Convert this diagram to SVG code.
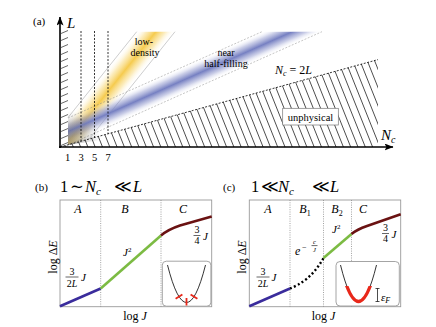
<svg xmlns="http://www.w3.org/2000/svg" width="436" height="327" viewBox="0 0 436 327">
<defs>
<style>
.t{font-family:"Liberation Serif","DejaVu Serif",serif;fill:#000}
.i{font-style:italic}
.ax{stroke:#000;stroke-width:1.6;fill:none}
.box{fill:#fff;stroke:#9a9a9a;stroke-width:0.9}
.dv{stroke:#8a8a8a;stroke-width:0.8;stroke-dasharray:1 1.3;fill:none}
.vd{stroke:#000;stroke-width:0.8;stroke-dasharray:2 1.5;fill:none}
.bandY{fill:none;stroke:#9a9a9a;stroke-width:0.5}
.bandB{fill:none;stroke:#8a8a8a;stroke-width:0.5;stroke-dasharray:2 1.5}
.frac{stroke:#000;stroke-width:0.6}
.pur{stroke:#3a2c9c;stroke-width:2.6;fill:none}
.grn{stroke:#7cbb43;stroke-width:2.6;fill:none}
.red{stroke:#6a1212;stroke-width:2.6;fill:none}
.mk{stroke:#e8281a;stroke-width:1.8;fill:none}
.par{stroke:#000;stroke-width:0.8;fill:none}
</style>
<marker id="arr" markerUnits="userSpaceOnUse" markerWidth="9" markerHeight="7" viewBox="0 0 9 7" refX="8.5" refY="3.5" orient="auto">
<path d="M0,0 L9,3.5 L0,7 L2,3.5 z" fill="#000"/>
</marker>
<linearGradient id="gB" gradientUnits="userSpaceOnUse" x1="68" y1="118" x2="78.03" y2="140.54">
<stop offset="0" stop-color="#ffffff" stop-opacity="0"/>
<stop offset="0.25" stop-color="#8d95cc" stop-opacity="0.45"/>
<stop offset="0.5" stop-color="#7680c2" stop-opacity="1"/>
<stop offset="0.75" stop-color="#8d95cc" stop-opacity="0.45"/>
<stop offset="1" stop-color="#ffffff" stop-opacity="0"/>
</linearGradient>
<linearGradient id="gY" gradientUnits="userSpaceOnUse" x1="136.7" y1="31.7" x2="160.06" y2="50.38">
<stop offset="0" stop-color="#ffffff" stop-opacity="0"/>
<stop offset="0.25" stop-color="#f8d66e" stop-opacity="0.45"/>
<stop offset="0.5" stop-color="#f5c845" stop-opacity="0.95"/>
<stop offset="0.75" stop-color="#f8d66e" stop-opacity="0.45"/>
<stop offset="1" stop-color="#ffffff" stop-opacity="0"/>
</linearGradient>
<radialGradient id="gG" gradientUnits="userSpaceOnUse" cx="68" cy="145" r="34">
<stop offset="0" stop-color="#666666" stop-opacity="0.55"/>
<stop offset="1" stop-color="#666666" stop-opacity="0"/>
</radialGradient>
<clipPath id="cpHatch"><polygon points="60,147 378,59.6 378,147"/></clipPath>
<clipPath id="cpRed"><rect x="336" y="286" width="64" height="22"/></clipPath>
</defs>

<g id="panel-a">
<text class="t" x="33" y="25" font-size="11">(a)</text>
<g id="band-low-density">
<polygon points="136.7,31.7 175,31.7 89.2,139 68,144.8 68,117.6" fill="url(#gY)"/>
<line class="bandY" x1="68" y1="117.6" x2="136.7" y2="31.7"/>
<line class="bandY" x1="89.2" y1="139" x2="175" y2="31.7"/>
</g>
<g id="band-half-filling">
<polygon points="262,31.7 322,31.7 68,145 68,118" fill="url(#gB)"/>
<line class="bandB" x1="68" y1="118" x2="262" y2="31.7"/>
<line class="bandB" x1="68" y1="145" x2="322" y2="31.7"/>
</g>
<polygon points="68,112 96,100 100,140 68,145" fill="url(#gG)"/>
<g id="unphysical-region">
<path clip-path="url(#cpHatch)" stroke="#000" stroke-width="0.7" fill="none" d="M30,57l36,90m-28.7,-90l36,90m-28.7,-90l36,90m-28.7,-90l36,90m-28.7,-90l36,90m-28.7,-90l36,90m-28.7,-90l36,90m-28.7,-90l36,90m-28.7,-90l36,90m-28.7,-90l36,90m-28.7,-90l36,90m-28.7,-90l36,90m-28.7,-90l36,90m-28.7,-90l36,90m-28.7,-90l36,90m-28.7,-90l36,90m-28.7,-90l36,90m-28.7,-90l36,90m-28.7,-90l36,90m-28.7,-90l36,90m-28.7,-90l36,90m-28.7,-90l36,90m-28.7,-90l36,90m-28.7,-90l36,90m-28.7,-90l36,90m-28.7,-90l36,90m-28.7,-90l36,90m-28.7,-90l36,90m-28.7,-90l36,90m-28.7,-90l36,90m-28.7,-90l36,90m-28.7,-90l36,90m-28.7,-90l36,90m-28.7,-90l36,90m-28.7,-90l36,90m-28.7,-90l36,90m-28.7,-90l36,90m-28.7,-90l36,90m-28.7,-90l36,90m-28.7,-90l36,90m-28.7,-90l36,90m-28.7,-90l36,90m-28.7,-90l36,90m-28.7,-90l36,90m-28.7,-90l36,90m-28.7,-90l36,90m-28.7,-90l36,90m-28.7,-90l36,90"/>
<line class="vd" x1="60" y1="147" x2="378" y2="59.6" stroke-dasharray="1.5 1.2"/>
</g>
<g id="nc-lines">
<line class="vd" x1="81" y1="31" x2="81" y2="141.2"/>
<line class="vd" x1="94.5" y1="31" x2="94.5" y2="137.5"/>
<line class="vd" x1="108" y1="31" x2="108" y2="133.8"/>
</g>
<path d="M61,33.5L68,30.5M61,40.5L68,37.5M61,47.5L68,44.5M61,54.5L68,51.5M61,61.5L68,58.5M61,68.5L68,65.5M61,75.5L68,72.5M61,82.5L68,79.5M61,89.5L68,86.5M61,96.5L68,93.5M61,103.5L68,100.5M61,110.5L68,107.5M61,117.5L68,114.5M61,124.5L68,121.5M61,131.5L68,128.5M61,138.5L68,135.5M61,145.5L68,142.5" stroke="#000" stroke-width="0.6" fill="none"/>
<g id="axes-a">
<line class="ax" x1="60" y1="148" x2="60" y2="17" marker-end="url(#arr)"/>
<line class="ax" x1="59" y1="147" x2="393" y2="147" marker-end="url(#arr)"/>
</g>
<text class="t i" x="67" y="28" font-size="15">L</text>
<text class="t" x="381" y="140" font-size="15"><tspan class="i">N</tspan><tspan class="i" font-size="10" dy="3">c</tspan></text>
<g class="t" font-size="10.5" text-anchor="middle">
<text x="67.5" y="161">1</text><text x="81" y="161">3</text><text x="94.5" y="161">5</text><text x="108" y="161">7</text>
</g>
<g class="t" font-size="10" text-anchor="middle">
<text x="144" y="45">low-</text><text x="145" y="56">density</text>
<text x="226" y="56">near</text><text x="226" y="66.5">half-filling</text>
</g>
<text class="t" x="275" y="74" font-size="12"><tspan class="i">N</tspan><tspan class="i" font-size="8" dy="2">c</tspan><tspan dy="-2"> = 2</tspan><tspan class="i">L</tspan></text>
<g id="unphysical-label">
<rect x="282.7" y="108.3" width="55.6" height="16.7" fill="#fff" stroke="#777" stroke-width="0.7"/>
<text class="t" x="310.5" y="120.5" font-size="10.5" text-anchor="middle">unphysical</text>
</g>
</g>

<g id="panel-b">
<text class="t" x="35" y="191" font-size="11">(b)</text>
<text class="t" y="192" font-size="16.5"><tspan x="60">1</tspan><tspan x="70">∼</tspan><tspan class="i" x="85">N</tspan><tspan class="i" font-size="11" dy="3">c</tspan><tspan x="114" dy="-3">≪</tspan><tspan class="i" x="133">L</tspan></text>
<rect class="box" x="60" y="200" width="151.7" height="106.7"/>
<line class="dv" x1="100.7" y1="200" x2="100.7" y2="306.7"/>
<line class="dv" x1="161" y1="200" x2="161" y2="306.7"/>
<g class="t i" font-size="12" text-anchor="middle">
<text x="78" y="213">A</text><text x="125" y="213">B</text><text x="183" y="213">C</text>
</g>
<g id="curve-b">
<line class="pur" x1="60" y1="306.3" x2="100.7" y2="288.5"/>
<line class="grn" x1="100.7" y1="288.5" x2="161" y2="235.5"/>
<path class="red" d="M161,235.5 Q168,229.5 180,225.5 L211.7,216.5"/>
</g>
<g class="t" font-size="10" text-anchor="middle">
<text x="72" y="274.5">3</text>
<text x="72" y="286.5">2<tspan class="i">L</tspan></text>
<text x="197" y="233">3</text>
<text x="197" y="244">4</text>
</g>
<line class="frac" x1="65.5" y1="277" x2="78.5" y2="277"/>
<line class="frac" x1="193.5" y1="235.5" x2="200.5" y2="235.5"/>
<text class="t i" x="81" y="281" font-size="11">J</text>
<text class="t i" x="203" y="239.5" font-size="11">J</text>
<text class="t i" x="123" y="256" font-size="11">J<tspan font-style="normal" font-size="7" dy="-4.5">2</tspan></text>
<text class="t" transform="translate(56.5,257) rotate(-90)" font-size="12" text-anchor="middle">log Δ<tspan class="i">E</tspan></text>
<text class="t" x="135" y="320" font-size="12" text-anchor="middle">log <tspan class="i">J</tspan></text>
<g id="inset-b">
<rect class="box" x="162.3" y="261.2" width="48.6" height="45" rx="4"/>
<path class="par" d="M167.5,265 Q186.5,340 205.5,265"/>
<path class="mk" d="M175.6,298.8L182.4,294.4M190.6,294.4L197.4,298.8M186.5,298L186.5,305.5"/>
</g>
</g>

<g id="panel-c">
<text class="t" x="223" y="191" font-size="11">(c)</text>
<text class="t" y="192" font-size="16.5"><tspan x="251">1</tspan><tspan x="261">≪</tspan><tspan class="i" x="278">N</tspan><tspan class="i" font-size="11" dy="3">c</tspan><tspan x="312" dy="-3">≪</tspan><tspan class="i" x="330">L</tspan></text>
<rect class="box" x="249.3" y="200" width="151.4" height="106.7"/>
<line class="dv" x1="290" y1="200" x2="290" y2="306.7"/>
<line class="dv" x1="323.5" y1="200" x2="323.5" y2="306.7"/>
<line class="dv" x1="351.5" y1="200" x2="351.5" y2="306.7" stroke="#444"/>
<g class="t i" font-size="12" text-anchor="middle">
<text x="268" y="213">A</text>
<text x="305" y="213">B<tspan font-style="normal" font-size="8" dy="2.5">1</tspan></text>
<text x="337" y="213">B<tspan font-style="normal" font-size="8" dy="2.5">2</tspan></text>
<text x="363" y="213">C</text>
</g>
<g id="curve-c">
<line class="pur" x1="249.3" y1="306.3" x2="290" y2="288.5"/>
<path d="M290,288.5 C300,284.5 313,277 323.5,258" stroke="#000" stroke-width="2.4" stroke-dasharray="2 2.4" fill="none"/>
<line class="grn" x1="323.5" y1="258" x2="351.5" y2="234"/>
<path class="red" d="M351.5,234 Q357,229.5 367,226 L400.7,214.3"/>
</g>
<g class="t" font-size="10" text-anchor="middle">
<text x="263" y="274.5">3</text>
<text x="263" y="286.5">2<tspan class="i">L</tspan></text>
<text x="385.5" y="231">3</text>
<text x="385.5" y="242">4</text>
</g>
<line class="frac" x1="256.5" y1="277" x2="269.5" y2="277"/>
<line class="frac" x1="382" y1="233.5" x2="389" y2="233.5"/>
<text class="t i" x="271.5" y="281" font-size="11">J</text>
<text class="t i" x="391.5" y="237.5" font-size="11">J</text>
<text class="t i" x="332" y="233" font-size="11">J<tspan font-style="normal" font-size="7" dy="-4.5">2</tspan></text>
<text class="t i" x="295" y="255" font-size="12">e</text>
<text class="t" x="302" y="249.5" font-size="8">−</text>
<text class="t i" x="314.5" y="244" font-size="6.5" text-anchor="middle">c</text>
<line class="frac" x1="311.5" y1="245.6" x2="317.5" y2="245.6" stroke-width="0.5"/>
<text class="t i" x="314.5" y="251.5" font-size="6.5" text-anchor="middle">J</text>
<text class="t" transform="translate(246,257) rotate(-90)" font-size="12" text-anchor="middle">log Δ<tspan class="i">E</tspan></text>
<text class="t" x="323.5" y="320" font-size="12" text-anchor="middle">log <tspan class="i">J</tspan></text>
<g id="inset-c">
<rect class="box" x="336" y="261.5" width="63.3" height="44.5" rx="4"/>
<path class="par" d="M340.5,265 Q358.5,338 376.5,265"/>
<path d="M340.5,265 Q358.5,338 376.5,265" stroke="#e8281a" stroke-width="3.4" fill="none" clip-path="url(#cpRed)"/>
<path d="M375.5,288.5H379.5M377.5,288.5V301.5M375.5,301.5H379.5" stroke="#000" stroke-width="0.7" fill="none"/>
<text class="t i" x="381" y="301" font-size="11">ε<tspan font-size="8" dy="2">F</tspan></text>
</g>
</g>
</svg>
